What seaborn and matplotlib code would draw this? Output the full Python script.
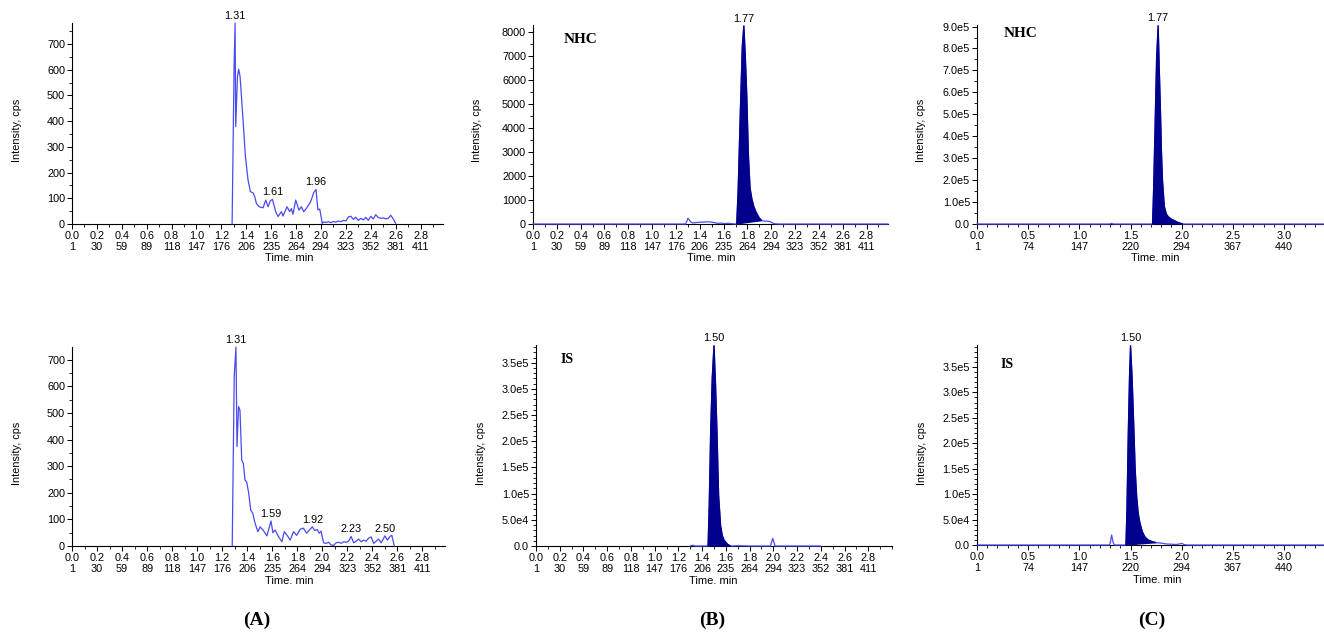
import matplotlib
matplotlib.use("Agg")
import matplotlib.pyplot as plt
from matplotlib.ticker import MultipleLocator
import seaborn as sns

# ---------------- chromatogram data (time in min, intensity in cps) ----------------
# (A) blank plasma, analyte channel
a1_time = [1.286, 1.302, 1.31, 1.315, 1.329, 1.339, 1.35, 1.361, 1.374, 1.393, 1.414,
           1.433, 1.454, 1.468, 1.481, 1.503, 1.535, 1.556, 1.575, 1.593, 1.61, 1.636,
           1.655, 1.682, 1.695, 1.727, 1.748, 1.762, 1.775, 1.797, 1.823, 1.842, 1.861,
           1.882, 1.909, 1.922, 1.941, 1.96, 1.975, 1.99, 2.01, 2.02, 2.04, 2.06, 2.08,
           2.10, 2.12, 2.14, 2.16, 2.18, 2.20, 2.22, 2.24, 2.26, 2.28, 2.30, 2.32, 2.34,
           2.36, 2.38, 2.40, 2.42, 2.44, 2.46, 2.48, 2.50, 2.52, 2.54, 2.56, 2.58, 2.60]
a1_cps = [0, 613, 782, 379, 574, 602, 574, 496, 405, 262, 171,
          126, 121, 106, 80, 67, 63, 93, 67, 90, 96, 48,
          29, 48, 31, 67, 48, 60, 38, 93, 54, 67, 48,
          60, 80, 93, 122, 134, 55, 58, 2, 8, 6, 9, 5,
          10, 7, 12, 9, 14, 12, 28, 30, 18, 26, 14, 22, 16,
          26, 14, 30, 20, 36, 25, 22, 24, 20, 22, 34, 20, 2]
a1_peaks = [1.31, 1.61, 1.96]

# (A) blank plasma, internal standard channel
a2_time = [1.28, 1.296, 1.31, 1.318, 1.331, 1.342, 1.356, 1.369, 1.382, 1.396, 1.412,
           1.428, 1.444, 1.463, 1.485, 1.503, 1.529, 1.557, 1.59, 1.605, 1.623, 1.65,
           1.677, 1.696, 1.722, 1.743, 1.77, 1.795, 1.823, 1.848, 1.875, 1.90, 1.92,
           1.94, 1.96, 1.975, 1.99, 2.01, 2.03, 2.05, 2.07, 2.09, 2.11, 2.13, 2.15,
           2.17, 2.19, 2.21, 2.23, 2.25, 2.27, 2.29, 2.31, 2.33, 2.35, 2.37, 2.39,
           2.41, 2.43, 2.45, 2.47, 2.50, 2.52, 2.54, 2.555, 2.575]
a2_cps = [0, 637, 748, 374, 524, 510, 324, 310, 248, 240, 198,
          135, 123, 85, 54, 72, 58, 38, 94, 50, 60, 35,
          16, 54, 38, 22, 54, 40, 63, 67, 48, 62, 72,
          58, 62, 48, 56, 12, 10, 14, 4, 2, 12, 14, 10,
          16, 14, 18, 36, 12, 18, 26, 16, 22, 18, 30, 34,
          10, 18, 26, 12, 38, 22, 36, 40, 0]
a2_peaks = [1.31, 1.59, 1.92, 2.23, 2.50]

# (B) LLOQ sample, NHC channel
b1_time = [0.00, 1.28, 1.295, 1.30, 1.31, 1.32, 1.34, 1.37, 1.40, 1.43, 1.46, 1.49,
           1.52, 1.55, 1.58, 1.61, 1.64, 1.67, 1.71, 1.722, 1.74, 1.757, 1.77, 1.782,
           1.795, 1.808, 1.822, 1.837, 1.852, 1.87, 1.885, 1.90, 1.92, 1.95, 1.98, 2.00,
           2.02, 2.06, 2.98]
b1_cps = [0, 0, 150, 240, 190, 110, 40, 60, 75, 80, 90, 85,
          60, 25, 40, 15, 30, 10, 0, 1400, 4600, 7400, 8250, 7000,
          5300, 2900, 1500, 1050, 750, 520, 375, 250, 140, 120, 110, 80,
          15, 0, 0]
b1_peaks = [1.77]
b1_window = (1.71, 1.92)

# (B) LLOQ sample, IS channel
b2_time = [1.30, 1.32, 1.34, 1.45, 1.46, 1.472, 1.485, 1.50, 1.512, 1.525, 1.539,
           1.556, 1.57, 1.585, 1.615, 1.64, 1.70, 1.80, 1.975, 1.995, 2.015, 2.40]
b2_cps = [0, 1500, 0, 0, 8.0e4, 2.2e5, 3.2e5, 3.83e5, 3.15e5, 2.2e5, 9.6e4,
          3.8e4, 2.0e4, 1.1e4, 3.0e3, 0, 500, 0, 0, 1.45e4, 0, 0]
b2_peaks = [1.50]
b2_window = (1.45, 1.64)

# (C) ULOQ sample, NHC channel
c1_time = [0.00, 1.30, 1.315, 1.33, 1.715, 1.725, 1.74, 1.755, 1.77, 1.78, 1.792,
           1.802, 1.812, 1.83, 1.85, 1.87, 1.90, 1.935, 1.96, 1.99, 2.01, 3.39]
c1_cps = [0, 0, 3000, 0, 0, 1.5e5, 4.5e5, 7.6e5, 9.05e5, 7.2e5, 5.2e5,
          3.3e5, 2.0e5, 8.0e4, 4.5e4, 3.2e4, 2.2e4, 1.4e4, 8.0e3, 3.0e3, 0, 0]
c1_peaks = [1.77]
c1_window = (1.715, 2.01)

# (C) ULOQ sample, IS channel
c2_time = [0.00, 1.29, 1.30, 1.315, 1.33, 1.342, 1.455, 1.465, 1.478, 1.49, 1.50,
           1.515, 1.533, 1.545, 1.56, 1.575, 1.592, 1.615, 1.64, 1.67, 1.706, 1.75,
           1.79, 1.85, 1.95, 2.00, 2.03, 2.06, 3.39]
c2_cps = [0, 0, 2000, 1.96e4, 5000, 0, 0, 7.0e4, 2.2e5, 3.3e5, 3.92e5,
          3.3e5, 2.26e5, 1.5e5, 9.5e4, 6.2e4, 4.3e4, 2.6e4, 1.6e4, 1.0e4, 7.0e3, 4.5e3,
          4.0e3, 2.0e3, 1.0e3, 3.0e3, 500, 0, 0]
c2_peaks = [1.50]
c2_window = (1.455, 1.75)

# ---------------- axis ticks ----------------
time_ticks_ab = [0.0, 0.2, 0.4, 0.6, 0.8, 1.0, 1.2, 1.4, 1.6, 1.8, 2.0, 2.2, 2.4, 2.6, 2.8]
time_labels_ab = ["0.0", "0.2", "0.4", "0.6", "0.8", "1.0", "1.2", "1.4", "1.6", "1.8",
                  "2.0", "2.2", "2.4", "2.6", "2.8"]
scan_labels_ab = ["1", "30", "59", "89", "118", "147", "176", "206", "235", "264",
                  "294", "323", "352", "381", "411"]
time_ticks_c = [0.0, 0.5, 1.0, 1.5, 2.0, 2.5, 3.0]
time_labels_c = ["0.0", "0.5", "1.0", "1.5", "2.0", "2.5", "3.0"]
scan_labels_c = ["1", "74", "147", "220", "294", "367", "440"]

cps_ticks_a = [0, 100, 200, 300, 400, 500, 600, 700]
cps_labels_a = ["0", "100", "200", "300", "400", "500", "600", "700"]
cps_ticks_b1 = [0, 1000, 2000, 3000, 4000, 5000, 6000, 7000, 8000]
cps_labels_b1 = ["0", "1000", "2000", "3000", "4000", "5000", "6000", "7000", "8000"]
cps_ticks_c1 = [0, 1e5, 2e5, 3e5, 4e5, 5e5, 6e5, 7e5, 8e5, 9e5]
cps_labels_c1 = ["0.0", "1.0e5", "2.0e5", "3.0e5", "4.0e5", "5.0e5", "6.0e5", "7.0e5",
                 "8.0e5", "9.0e5"]
cps_ticks_is = [0, 5e4, 1e5, 1.5e5, 2e5, 2.5e5, 3e5, 3.5e5]
cps_labels_is = ["0.0", "5.0e4", "1.0e5", "1.5e5", "2.0e5", "2.5e5", "3.0e5", "3.5e5"]

# ---------------- style ----------------
sns.set_theme(style="ticks")
plt.rcParams["font.family"] = ["Liberation Sans", "DejaVu Sans"]
plt.rcParams.update({
    "axes.linewidth": 0.8,
    "text.color": "black",
    "axes.labelcolor": "black",
    "xtick.color": "black",
    "ytick.color": "black",
    "axes.edgecolor": "black",
})

TRACE = "#4a4af2"
FILL = "#00008c"
W, H = 1324, 634
FS = 7.8

fig = plt.figure(figsize=(W / 100, H / 100), dpi=100)


def fig_xy(px, py):
    return px / W, 1 - py / H


def panel(rect_px, time, cps, xlim, ylim, xticks, xlabels, scans, yticks, ylabels,
          xminor, yminor, peaks, window=None, tag=None, tag_pos=None, tag_size=11,
          ylabel_px=None, xlabel_px=None):
    l, t, r, b = rect_px
    ax = fig.add_axes([l / W, 1 - b / H, (r - l) / W, (b - t) / H])
    sns.lineplot(x=time, y=cps, ax=ax, color=TRACE, linewidth=0.9,
                 estimator=None, sort=False, zorder=3, clip_on=False)
    if window is not None:
        sel = [(tt, cc) for tt, cc in zip(time, cps) if window[0] <= tt <= window[1]]
        ax.fill([s[0] for s in sel], [s[1] for s in sel], facecolor=FILL,
                edgecolor=FILL, linewidth=0.9, zorder=4, clip_on=False)
    ax.set_xlim(*xlim)
    ax.set_ylim(*ylim)
    ax.set_xticks(xticks)
    ax.set_xticklabels([f"{a}\n{s}" for a, s in zip(xlabels, scans)],
                       fontsize=FS, linespacing=1.1)
    ax.set_yticks(yticks)
    ax.set_yticklabels(ylabels, fontsize=FS)
    ax.xaxis.set_minor_locator(MultipleLocator(xminor))
    ax.yaxis.set_minor_locator(MultipleLocator(yminor))
    ax.tick_params(which="major", direction="out", length=3.5, width=0.7, pad=1.5)
    ax.tick_params(which="minor", direction="out", length=2, width=0.6)
    for s in ("top", "right"):
        ax.spines[s].set_visible(False)
    ax.set_xlabel("Time. min", fontsize=FS + 0.2, va="center")
    ax.set_ylabel("Intensity, cps", fontsize=FS, va="center")
    ax.xaxis.set_label_coords(*fig_xy(*xlabel_px), transform=fig.transFigure)
    ax.yaxis.set_label_coords(*fig_xy(*ylabel_px), transform=fig.transFigure)
    lookup = dict(zip(time, cps))
    for pk in peaks:
        ax.annotate(f"{pk:.2f}", xy=(pk, lookup[pk]), xytext=(0, 1.5),
                    textcoords="offset points", ha="center", va="bottom",
                    fontsize=FS, annotation_clip=False)
    if tag:
        ax.text(tag_pos[0], tag_pos[1], tag, transform=ax.transAxes,
                fontfamily="Liberation Serif", fontweight="bold", fontsize=tag_size,
                ha="left", va="center")
    return ax


# (A) top / bottom
panel((72, 23, 443, 224), a1_time, a1_cps, (0, 2.98), (0, 782),
      time_ticks_ab, time_labels_ab, scan_labels_ab, cps_ticks_a, cps_labels_a,
      0.1, 50, a1_peaks, ylabel_px=(17, 130), xlabel_px=(289, 258))
panel((72, 347, 445, 546), a2_time, a2_cps, (0, 2.98), (0, 748),
      time_ticks_ab, time_labels_ab, scan_labels_ab, cps_ticks_a, cps_labels_a,
      0.1, 50, a2_peaks, ylabel_px=(17, 453), xlabel_px=(289, 581))

# (B) top / bottom
panel((533, 25, 888, 224), b1_time, b1_cps, (0, 2.98), (0, 8280),
      time_ticks_ab, time_labels_ab, scan_labels_ab, cps_ticks_b1, cps_labels_b1,
      0.1, 500, b1_peaks, window=b1_window, tag="NHC", tag_pos=(0.085, 0.925),
      tag_size=11, ylabel_px=(477, 130), xlabel_px=(711, 258))
panel((536, 345, 892, 546), b2_time, b2_cps, (0, 3.0), (0, 3.84e5),
      time_ticks_ab, time_labels_ab, scan_labels_ab, cps_ticks_is, cps_labels_is,
      0.1, 1e4, b2_peaks, window=b2_window, tag="IS", tag_pos=(0.07, 0.93),
      tag_size=10, ylabel_px=(481, 453), xlabel_px=(713, 581))

# (C) top / bottom
panel((977, 25, 1324, 224), c1_time, c1_cps, (0, 3.39), (0, 9.07e5),
      time_ticks_c, time_labels_c, scan_labels_c, cps_ticks_c1, cps_labels_c1,
      0.1, 5e4, c1_peaks, window=c1_window, tag="NHC", tag_pos=(0.078, 0.955),
      tag_size=11, ylabel_px=(921, 130), xlabel_px=(1155, 258))
panel((977, 345, 1324, 545), c2_time, c2_cps, (0, 3.39), (0, 3.93e5),
      time_ticks_c, time_labels_c, scan_labels_c, cps_ticks_is, cps_labels_is,
      0.1, 1e4, c2_peaks, window=c2_window, tag="IS", tag_pos=(0.069, 0.905),
      tag_size=10, ylabel_px=(922, 453), xlabel_px=(1157, 580))

# panel letters
for letter, px in (("(A)", 257), ("(B)", 712), ("(C)", 1152)):
    fx, fy = fig_xy(px, 620)
    fig.text(fx, fy, letter, ha="center", va="center", fontsize=14,
             fontfamily="Liberation Serif", fontweight="bold")

fig.savefig("out.png", dpi=100, facecolor="white")
